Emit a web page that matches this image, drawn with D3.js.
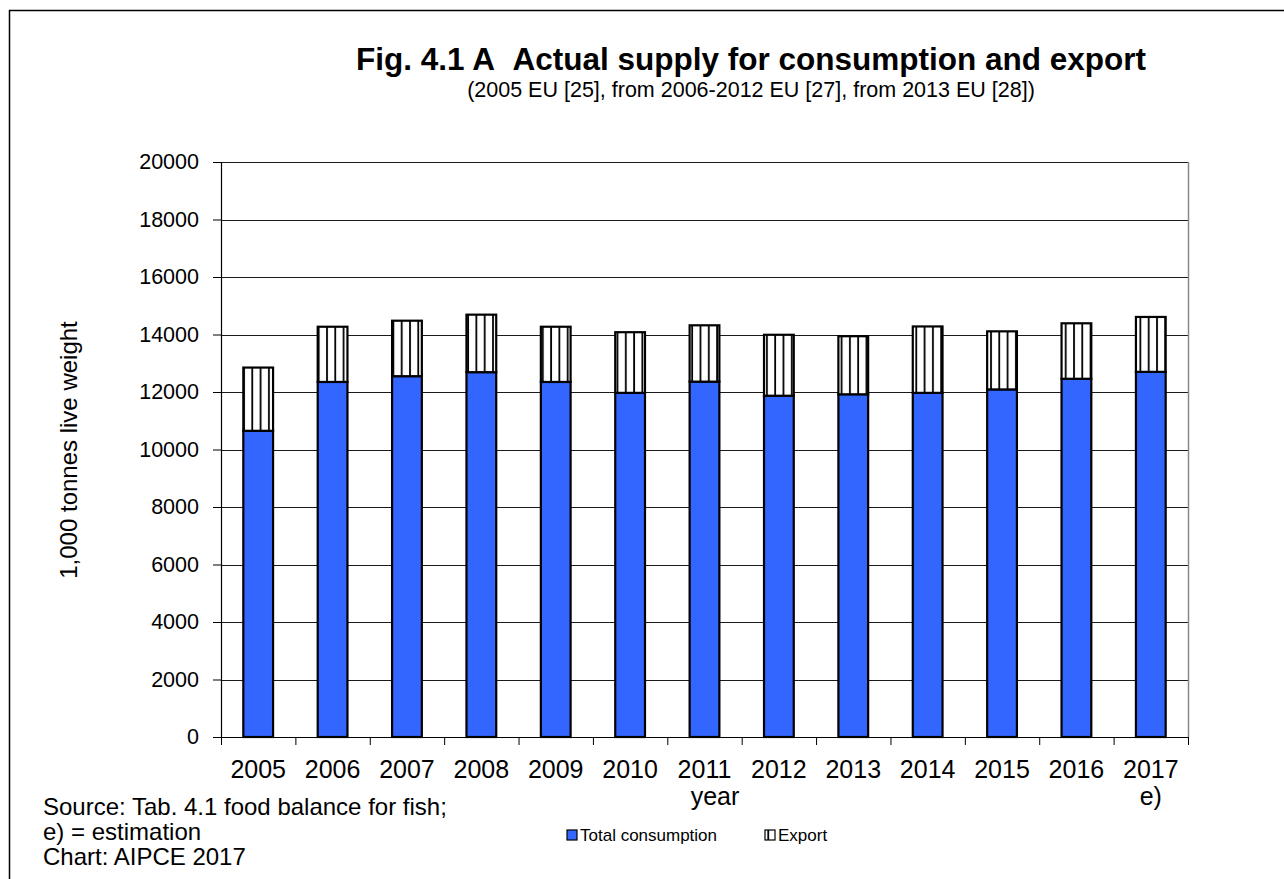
<!DOCTYPE html>
<html>
<head>
<meta charset="utf-8">
<script src="https://cdn.jsdelivr.net/npm/d3@7"></script>
<style>
  html, body { margin: 0; padding: 0; background: #fff; }
  svg { display: block; font-family: "Liberation Sans", Arial, sans-serif; }
</style>
</head>
<body>
<svg id="chart" width="1284" height="879"></svg>
<script>
// Supply data, 1,000 tonnes live weight
const years = ["2005", "2006", "2007", "2008", "2009", "2010", "2011", "2012", "2013", "2014", "2015", "2016", "2017"];
const totalConsumption = [10650, 12350, 12550, 12690, 12350, 11970, 12360, 11870, 11920, 11970, 12090, 12460, 12700];
const exportValues = [2200, 1920, 1930, 2000, 1920, 2110, 1960, 2120, 2020, 2310, 2020, 1930, 1910];
const yTicks = [0, 2000, 4000, 6000, 8000, 10000, 12000, 14000, 16000, 18000, 20000];
const seriesNames = ["Total consumption", "Export"];

const svg = d3.select("#chart");
const W = 1284, H = 879;
const plot = { left: 221, right: 1188, top: 162, bottom: 737 };

// outer frame (only top and left edges fall inside the canvas)
svg.append("path")
  .attr("d", `M9.5,${H} V10.5 H${W}`)
  .attr("fill", "none").attr("stroke", "#000").attr("stroke-width", 1.5);

// hatch pattern for the export segment
const defs = svg.append("defs");
const pat = defs.append("pattern")
  .attr("id", "vhatch")
  .attr("patternUnits", "userSpaceOnUse")
  .attr("width", 8.3).attr("height", 10).attr("x", 2.3);
pat.append("rect").attr("width", 8.3).attr("height", 10).attr("fill", "#fff");
pat.append("line").attr("x1", 1).attr("x2", 1).attr("y1", 0).attr("y2", 10)
  .attr("stroke", "#000").attr("stroke-width", 1.8);

const x = d3.scaleBand().domain(years)
  .range([plot.left, plot.right]).paddingInner(0.6).paddingOuter(0.3);
const y = d3.scaleLinear().domain([0, 20000]).range([plot.bottom, plot.top]);

// gridlines
svg.append("g").selectAll("line").data(yTicks.filter(d => d > 0)).join("line")
  .attr("x1", plot.left).attr("x2", plot.right)
  .attr("y1", d => Math.round(y(d)) + 0.5).attr("y2", d => Math.round(y(d)) + 0.5)
  .attr("stroke", "#1a1a1a").attr("stroke-width", 1);

// right border of plot area
svg.append("line")
  .attr("x1", plot.right + 0.5).attr("x2", plot.right + 0.5)
  .attr("y1", plot.top).attr("y2", plot.bottom)
  .attr("stroke", "#888").attr("stroke-width", 1.5);

// stacked data
const stackData = years.map((yr, i) => ({ year: yr, "Total consumption": totalConsumption[i], "Export": exportValues[i] }));
const stacked = d3.stack().keys(seriesNames)(stackData);
const fills = { "Total consumption": "#3366ff", "Export": "url(#vhatch)" };

svg.append("g").selectAll("g").data(stacked).join("g")
  .attr("fill", d => fills[d.key])
  .selectAll("rect").data(d => d).join("rect")
  .attr("x", d => x(d.data.year))
  .attr("width", x.bandwidth())
  .attr("y", d => y(d[1]))
  .attr("height", d => y(d[0]) - y(d[1]))
  .attr("stroke", "#000").attr("stroke-width", 2.2);

// y axis
const yAxis = d3.axisLeft(y).tickValues(yTicks).tickSize(8).tickPadding(14).tickFormat(d3.format("d"));
const gy = svg.append("g").attr("transform", `translate(${plot.left},0)`).call(yAxis);
gy.select(".domain").attr("stroke", "#000").attr("stroke-width", 1.2);
gy.selectAll(".tick line").attr("stroke", "#000");
gy.selectAll(".tick text").attr("font-size", 21.5).attr("fill", "#000")
  .attr("font-family", "Liberation Sans, Arial, sans-serif");

// x axis: baseline plus category boundary ticks
svg.append("line")
  .attr("x1", plot.left).attr("x2", plot.right + 1)
  .attr("y1", plot.bottom + 0.5).attr("y2", plot.bottom + 0.5)
  .attr("stroke", "#000").attr("stroke-width", 1.2);
const step = x.step();
svg.append("g").selectAll("line").data(d3.range(years.length + 1)).join("line")
  .attr("x1", i => plot.left + i * step + 0.5).attr("x2", i => plot.left + i * step + 0.5)
  .attr("y1", plot.bottom).attr("y2", plot.bottom + 8)
  .attr("stroke", "#000").attr("stroke-width", 1);
svg.append("g").selectAll("text").data(years).join("text")
  .attr("x", d => x(d) + x.bandwidth() / 2)
  .attr("y", 778)
  .attr("text-anchor", "middle").attr("font-size", 25).text(d => d);
svg.append("text")
  .attr("x", x("2017") + x.bandwidth() / 2).attr("y", 805)
  .attr("text-anchor", "middle").attr("font-size", 25).text("e)");

// axis titles
svg.append("text")
  .attr("x", 715).attr("y", 805)
  .attr("text-anchor", "middle").attr("font-size", 25).text("year");
svg.append("text")
  .attr("transform", `translate(77,450) rotate(-90)`)
  .attr("text-anchor", "middle").attr("font-size", 24).text("1,000 tonnes live weight");

// titles
svg.append("text")
  .attr("x", 751).attr("y", 70)
  .attr("text-anchor", "middle").attr("font-size", 31.5).attr("font-weight", "bold")
  .text("Fig. 4.1 A\u00a0\u00a0Actual supply for consumption and export");
svg.append("text")
  .attr("x", 751).attr("y", 97)
  .attr("text-anchor", "middle").attr("font-size", 21.5)
  .text("(2005 EU [25], from 2006-2012 EU [27], from 2013 EU [28])");

// source note
const notes = ["Source: Tab. 4.1 food balance for fish;", "e) = estimation", "Chart: AIPCE 2017"];
svg.append("g").selectAll("text").data(notes).join("text")
  .attr("x", 43).attr("y", (d, i) => 815 + i * 25)
  .attr("font-size", 24).text(d => d);

// legend
const legend = svg.append("g").attr("transform", "translate(567,835)");
const legendItems = [
  { name: seriesNames[0], fill: fills["Total consumption"], dx: 0 },
  { name: seriesNames[1], fill: fills["Export"], dx: 198 }
];
const li = legend.selectAll("g").data(legendItems).join("g")
  .attr("transform", d => `translate(${d.dx},0)`);
li.append("rect").attr("x", 0).attr("y", -5).attr("width", 10).attr("height", 10)
  .attr("fill", d => d.fill).attr("stroke", "#000").attr("stroke-width", 1.2);
li.append("text").attr("x", 13).attr("y", 6).attr("font-size", 17).text(d => d.name);
</script>
</body>
</html>
